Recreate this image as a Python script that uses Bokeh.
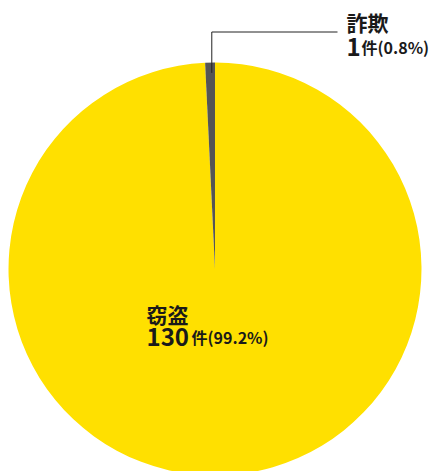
import math
from bokeh.plotting import figure
from bokeh.models import Range1d
from bokeh.core.properties import value
from bokeh.embed import file_html
from bokeh.resources import INLINE

categories = ["窃盗", "詐欺"]
counts = [130, 1]
percents = ["99.2%", "0.8%"]
colors = ["#FFE000", "#555555"]

W, H = 430, 471
p = figure(width=W, height=H, output_backend="svg", toolbar_location=None,
           x_range=Range1d(0, W), y_range=Range1d(0, H), min_border=0,
           outline_line_color=None)
p.axis.visible = False
p.grid.visible = False

cx, cy, r = 214.5, 202.5, 206.5
total = sum(counts)
start = math.pi / 2
starts, ends = [], []
for c in counts:
    a = 2 * math.pi * c / total
    starts.append(start)
    ends.append(start - a)
    start -= a

p.wedge(x=[cx] * len(counts), y=[cy] * len(counts), radius=r,
        start_angle=ends, end_angle=starts, direction="anticlock",
        fill_color=colors, line_color=None)

font = value("Noto Sans CJK JP")
tc = "#1a1a1a"
big, cjk, small = "24px", "21px", "16px"

# 窃盗 label (inside)
lx, ly = 146, 158
p.text(x=[lx], y=[ly], text=[categories[0]], text_font=font, text_font_style="bold",
       text_font_size=cjk, text_color=tc, text_baseline="alphabetic")
p.text(x=[lx], y=[ly - 23], text=[str(counts[0])], text_font=font, text_font_style="bold",
       text_font_size=big, text_color=tc, text_baseline="alphabetic")
p.text(x=[lx + 45], y=[ly - 23], text=["件(" + percents[0] + ")"], text_font=font,
       text_font_style="bold", text_font_size=small, text_color=tc, text_baseline="alphabetic")

# 詐欺 label with leader line
mid = (starts[1] + ends[1]) / 2
px = cx + r * 0.95 * math.cos(mid) + 1.5
py = cy + r * 0.95 * math.sin(mid)
ky = 439.5
p.line(x=[px, px, 337], y=[py, ky, ky], line_color="#222222", line_width=1)
tx, ty = 346, 450
p.text(x=[tx], y=[ty], text=[categories[1]], text_font=font, text_font_style="bold",
       text_font_size=cjk, text_color=tc, text_baseline="alphabetic")
p.text(x=[tx], y=[ty - 25], text=[str(counts[1])], text_font=font, text_font_style="bold",
       text_font_size=big, text_color=tc, text_baseline="alphabetic")
p.text(x=[tx + 15], y=[ty - 25], text=["件(" + percents[1] + ")"], text_font=font,
       text_font_style="bold", text_font_size=small, text_color=tc, text_baseline="alphabetic")

open("out.html", "w").write(file_html(p, INLINE))
